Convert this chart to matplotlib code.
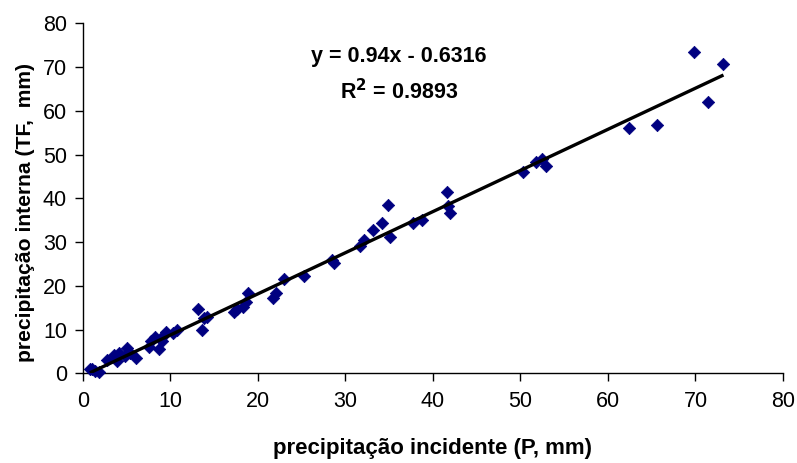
import matplotlib
matplotlib.use("Agg")
import matplotlib.pyplot as plt
import numpy as np

plt.rcParams['font.family'] = ['Liberation Sans', 'DejaVu Sans']

# incident precipitation (P, mm)
P = [0.8, 1.0, 1.4, 1.8, 2.7, 3.5, 3.9, 4.1, 4.8, 5.0, 5.4, 6.1,
     7.5, 7.8, 8.2, 8.7, 9.0, 9.2, 9.5, 10.3, 10.8,
     13.2, 13.6, 13.8, 14.2, 17.3, 17.6, 18.3, 18.6, 18.9,
     21.7, 22.1, 23.0, 25.3, 28.5, 28.7, 31.7, 32.1, 33.1, 34.2, 34.9, 35.1,
     37.7, 38.8, 41.6, 41.7, 42.0, 50.3, 51.8, 52.5, 52.9,
     62.4, 65.6, 69.8, 71.4, 73.2]
# throughfall (TF, mm)
TF = [0.9, 1.1, 0.5, 0.2, 3.1, 4.2, 2.9, 4.6, 3.9, 5.7, 4.7, 3.6,
      6.0, 7.5, 8.3, 5.5, 7.5, 8.5, 9.5, 9.2, 10.0,
      14.6, 9.9, 12.6, 12.9, 14.1, 14.6, 15.2, 16.2, 18.4,
      17.1, 18.3, 21.5, 22.2, 25.9, 25.1, 29.0, 30.5, 32.8, 34.4, 38.5, 31.2,
      34.4, 35.0, 41.4, 38.2, 36.7, 46.1, 48.4, 48.9, 47.4,
      56.0, 56.8, 73.5, 61.9, 70.6]

slope = 0.94
intercept = -0.6316
r2 = 0.9893

fig = plt.figure(figsize=(7.97, 4.63), dpi=100)
ax = fig.add_axes([0.1041, 0.1937, 0.8783, 0.7560])

ax.scatter(P, TF, marker='D', s=40, color='#000080', edgecolors='#000080',
           linewidths=0.5, zorder=3, clip_on=False)

xl = np.array([min(P), max(P)])
ax.plot(xl, slope * xl + intercept, color='black', lw=2.4, zorder=4,
        solid_capstyle='butt')

ax.set_xlim(0, 80)
ax.set_ylim(0, 80)
ax.set_xticks(np.arange(0, 81, 10))
ax.set_yticks(np.arange(0, 81, 10))
ax.tick_params(axis='both', direction='out', length=5.5, width=1,
               colors='black', labelsize=15.5)
ax.tick_params(axis='x', pad=7)
ax.tick_params(axis='y', pad=6)
for s in ['top', 'right']:
    ax.spines[s].set_visible(False)
for s in ['left', 'bottom']:
    ax.spines[s].set_color('black')
    ax.spines[s].set_linewidth(1)

ax.set_xlabel('precipitação incidente (P, mm)', fontsize=16,
              fontweight='bold', labelpad=19)
ax.set_ylabel('precipitação interna (TF,  mm)', fontsize=15.2,
              fontweight='bold')
ax.yaxis.set_label_coords(-0.068, 0.46)

ax.text(0.451, 0.905, 'y = 0.94x - 0.6316', transform=ax.transAxes,
        ha='center', va='center', fontsize=15.5, fontweight='bold')
ax.text(0.451, 0.805, 'R$^{\\mathbf{2}}$ = 0.9893', transform=ax.transAxes,
        ha='center', va='center', fontsize=15.5, fontweight='bold')

fig.savefig('out.png', dpi=100)
